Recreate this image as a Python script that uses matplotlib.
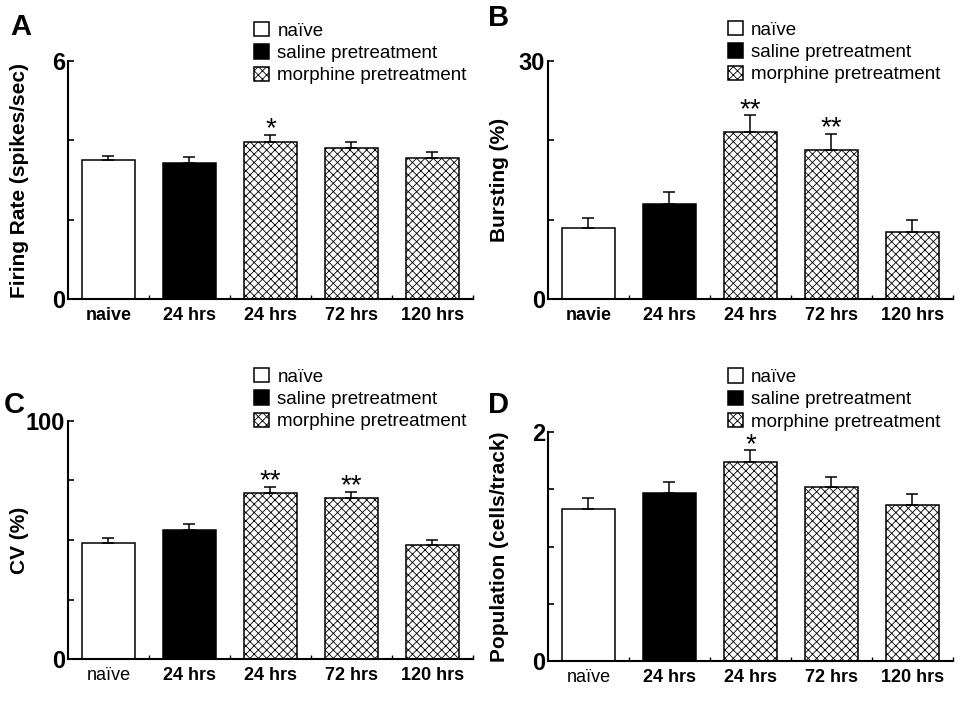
import matplotlib
matplotlib.use('Agg')
import matplotlib.pyplot as plt
from matplotlib.ticker import MultipleLocator, FixedLocator

plt.rcParams['font.family'] = ['Liberation Sans', 'DejaVu Sans']
plt.rcParams['hatch.linewidth'] = 0.6

# ---- data ----
labels_A = ['naive', '24 hrs', '24 hrs', '72 hrs', '120 hrs']
labels_B = ['navie', '24 hrs', '24 hrs', '72 hrs', '120 hrs']
labels_CD = ['naïve', '24 hrs', '24 hrs', '72 hrs', '120 hrs']
groups = ['naive', 'saline', 'morphine', 'morphine', 'morphine']
legend_labels = ['naïve', 'saline pretreatment', 'morphine pretreatment']

firing_rate = [3.50, 3.42, 3.97, 3.80, 3.55]
firing_err = [0.11, 0.16, 0.16, 0.15, 0.15]
firing_stars = ['', '', '*', '', '']

bursting = [8.9, 12.0, 21.0, 18.8, 8.4]
bursting_err = [1.26, 1.55, 2.15, 2.06, 1.52]
bursting_stars = ['', '', '**', '**', '']

cv = [48.7, 54.4, 69.7, 67.6, 47.8]
cv_err = [2.1, 2.2, 2.5, 2.5, 2.1]
cv_stars = ['', '', '**', '**', '']

population = [1.33, 1.47, 1.74, 1.52, 1.365]
population_err = [0.09, 0.09, 0.10, 0.09, 0.09]
population_stars = ['', '', '*', '', '']

styles = {
    'naive': dict(color='white', hatch=None),
    'saline': dict(color='black', hatch=None),
    'morphine': dict(color='white', hatch='xxxx'),
}


def panel(ax, values, errs, stars, labels, ylabel, ymax, ystep,
          legend_anchor, first_bold=True):
    x = list(range(len(values)))
    bars = []
    for i, (v, g) in enumerate(zip(values, groups)):
        b = ax.bar(i, v, width=0.65, color=styles[g]['color'],
                   hatch=styles[g]['hatch'], edgecolor='black',
                   linewidth=1.1, zorder=2)
        bars.append(b[0])
    ax.errorbar(x, values, yerr=[[0] * len(errs), errs], fmt='none',
                ecolor='black', elinewidth=1.1, capsize=4, capthick=1.1,
                zorder=3)
    for i, s in enumerate(stars):
        if s:
            ax.annotate(s, (i, values[i] + errs[i]), xytext=(0, -1),
                        textcoords='offset points', ha='center',
                        va='baseline', fontsize=20)

    ax.set_xlim(-0.5, len(values) - 0.5)
    for side in ['top', 'right']:
        ax.spines[side].set_visible(False)
    for side in ['left', 'bottom']:
        ax.spines[side].set_linewidth(1.5)

    ax.set_xticks(x)
    ax.set_xticklabels(labels, fontsize=13, fontweight='bold')
    if not first_bold:
        ax.get_xticklabels()[0].set_fontweight('normal')
    ax.tick_params(axis='x', which='major', length=0, pad=6)
    ax.xaxis.set_minor_locator(FixedLocator([i + 0.5 for i in x]))
    ax.tick_params(axis='x', which='minor', direction='in', length=3,
                   width=1)

    n = int(round(ymax / ystep))
    ticks = [k * ystep for k in range(n + 1)]
    ax.set_yticks(ticks)
    ax.set_yticklabels(['0'] + [''] * (n - 1) + ['%g' % ymax],
                       fontsize=17, fontweight='bold')
    ax.tick_params(axis='y', direction='in', length=4, width=1.2, pad=2)
    ax.set_ylim(0, ymax)

    ax.set_ylabel(ylabel, fontsize=15, fontweight='bold')
    ax.yaxis.set_label_coords(-0.096, 0.5)

    ax.legend(bars[:3], legend_labels, loc='upper left',
              bbox_to_anchor=legend_anchor, frameon=False, fontsize=13.5,
              handlelength=0.8, handleheight=0.8, handletextpad=0.45,
              labelspacing=0.25, borderpad=0, borderaxespad=0)
    return ax


fig = plt.figure(figsize=(9.6, 7.2), dpi=100)
axA = fig.add_axes([0.0708, 0.5847, 0.4219, 0.3306])
axB = fig.add_axes([0.5708, 0.5847, 0.4219, 0.3306])
axC = fig.add_axes([0.0708, 0.0847, 0.4219, 0.3306])
axD = fig.add_axes([0.5708, 0.0819, 0.4219, 0.318])

panel(axA, firing_rate, firing_err, firing_stars, labels_A,
      'Firing Rate (spikes/sec)', 6, 2, (0.459, 1.164))
panel(axB, bursting, bursting_err, bursting_stars, labels_B,
      'Bursting (%)', 30, 10, (0.444, 1.168))
panel(axC, cv, cv_err, cv_stars, labels_CD,
      'CV (%)', 100, 25, (0.459, 1.223), first_bold=False)
panel(axD, population, population_err, population_stars, labels_CD,
      'Population (cells/track)', 2, 0.5, (0.444, 1.279), first_bold=False)

# panel letters
for letter, (px, py) in zip('ABCD', [(10, 35), (488, 26), (4, 413), (488, 413)]):
    fig.text(px / 960, 1 - py / 720, letter, fontsize=21, fontweight='bold',
             ha='left', va='baseline')

fig.savefig('out.png', dpi=100)
